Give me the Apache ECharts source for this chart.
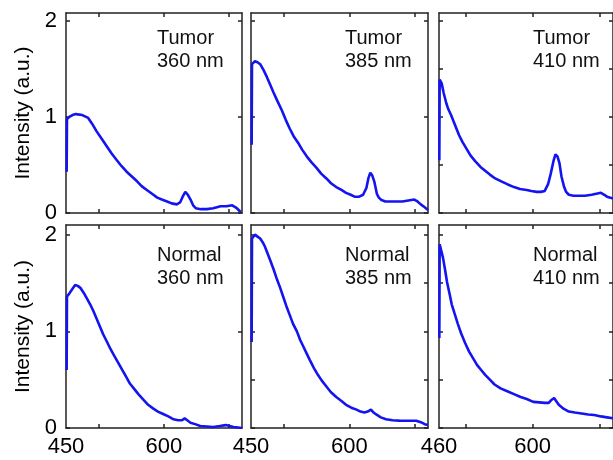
<!DOCTYPE html>
<html><head><meta charset="utf-8">
<script src="https://cdn.jsdelivr.net/npm/echarts@6/dist/echarts.min.js"></script>
<style>html,body{margin:0;padding:0;background:#fff}#c{width:613px;height:460px}</style>
</head><body><div id="c"></div><script>
// ---- data (wavelength in nm, intensity in a.u.) ----
const wlTumor360 = [451,451.5,455,460,465,468,475,484,490,497,505,513,520,528,535,543,551,559,566,574,582,590,597,605,612,620,625,629,633,637,641,645,649,657,666,676,687,696,705,712,718];
const tumor360   = [0.43,0.98,1.0,1.02,1.03,1.04,1.02,0.99,0.93,0.85,0.77,0.69,0.62,0.55,0.49,0.43,0.38,0.33,0.28,0.24,0.20,0.16,0.14,0.12,0.10,0.09,0.11,0.17,0.22,0.19,0.14,0.08,0.05,0.04,0.04,0.05,0.07,0.07,0.08,0.05,0.01];

const wlNormal360 = [451,451.5,455,460,464,468,472,477,482,487,492,497,502,507,513,518,523,528,533,538,543,548,554,561,569,576,584,591,599,607,615,622,628,632,636,641,648,656,666,676,686,695,701,707,714,720];
const normal360   = [0.60,1.36,1.39,1.44,1.48,1.47,1.45,1.40,1.34,1.28,1.21,1.13,1.05,0.97,0.89,0.82,0.76,0.70,0.64,0.58,0.52,0.46,0.41,0.35,0.29,0.24,0.20,0.17,0.145,0.12,0.09,0.08,0.08,0.10,0.08,0.055,0.04,0.02,0.015,0.01,0.02,0.03,0.02,0.01,0.005,0.0];

const wlTumor385 = [451,451.5,456,460,464,469,474,479,484,490,497,503,509,515,522,528,535,542,550,557,565,572,580,588,595,602,608,615,621,626,629,632,635,638,642,645,649,655,661,670,681,690,699,704,709,715,720];
const tumor385   = [0.71,1.55,1.58,1.57,1.55,1.49,1.42,1.34,1.26,1.17,1.07,0.97,0.88,0.80,0.73,0.66,0.59,0.53,0.47,0.41,0.36,0.31,0.27,0.24,0.21,0.19,0.17,0.17,0.19,0.26,0.36,0.42,0.39,0.33,0.20,0.16,0.135,0.12,0.12,0.12,0.12,0.13,0.14,0.12,0.09,0.06,0.03];

const wlNormal385 = [451,451.5,456,460,464,468,471,475,479,484,489,494,499,504,509,514,520,525,530,535,540,546,552,558,565,572,580,588,595,603,611,617,623,628,633,637,641,648,656,666,676,690,702,709,715,720];
const normal385   = [0.89,1.96,2.0,1.98,1.96,1.92,1.88,1.81,1.74,1.65,1.55,1.46,1.36,1.26,1.17,1.08,1.00,0.91,0.84,0.77,0.70,0.62,0.55,0.49,0.43,0.37,0.32,0.28,0.24,0.21,0.19,0.17,0.16,0.17,0.19,0.16,0.14,0.11,0.09,0.08,0.076,0.075,0.075,0.06,0.04,0.03];

const wlTumor410 = [460.5,461,464,467,471,474,478,482,486,490,495,501,507,514,522,529,536,544,553,562,572,581,591,598,606,612,618,623,627,631,634,637,640,643,647,650,654,661,668,678,688,695,702,707,711,716,720];
const tumor410   = [0.55,1.39,1.35,1.25,1.14,1.08,1.02,0.95,0.88,0.81,0.74,0.67,0.60,0.54,0.48,0.44,0.40,0.36,0.33,0.30,0.27,0.25,0.24,0.23,0.22,0.22,0.23,0.30,0.41,0.54,0.61,0.59,0.52,0.38,0.27,0.22,0.19,0.18,0.18,0.18,0.19,0.20,0.21,0.19,0.17,0.16,0.15];

const wlNormal410 = [460.5,461,462.5,466,469,472,476,479,483,488,493,499,505,511,517,523,529,536,543,552,562,572,582,591,601,610,618,624,628,632,635,639,646,654,663,673,683,692,702,711,720];
const normal410   = [0.93,1.90,1.88,1.76,1.64,1.51,1.38,1.28,1.19,1.08,0.98,0.88,0.79,0.72,0.65,0.60,0.55,0.50,0.45,0.41,0.38,0.35,0.32,0.30,0.27,0.265,0.26,0.26,0.29,0.31,0.28,0.24,0.20,0.17,0.16,0.15,0.14,0.135,0.12,0.11,0.10];

const xTicks = [500, 600, 700];
const xLabels = [[450, 600], [450, 600], [460, 600]];
const xMins = [450, 450, 460];
const xMax = 720;
const yLabels = [0, 1, 2];
const yTicksCoarse = [0, 1, 2];
const yTicksFine = [0, 0.5, 1, 1.5, 2];
const annotations = [['Tumor', '360 nm'], ['Tumor', '385 nm'], ['Tumor', '410 nm'],
                     ['Normal', '360 nm'], ['Normal', '385 nm'], ['Normal', '410 nm']];
const yName = 'Intensity (a.u.)';

const panels = [
  { wl: wlTumor360, v: tumor360, row: 0, col: 0, fine: false },
  { wl: wlTumor385, v: tumor385, row: 0, col: 1, fine: false },
  { wl: wlTumor410, v: tumor410, row: 0, col: 2, fine: true },
  { wl: wlNormal360, v: normal360, row: 1, col: 0, fine: false },
  { wl: wlNormal385, v: normal385, row: 1, col: 1, fine: true },
  { wl: wlNormal410, v: normal410, row: 1, col: 2, fine: true }
];

// ---- layout ----
const colBox = [{ left: 66, width: 176 }, { left: 251, width: 177 }, { left: 439, width: 180 }];
const rowBox = [{ top: 13, height: 200, max: 2.083 }, { top: 225, height: 203, max: 2.1 }];
const textX = [157, 345, 533];
const textY = [27, 244];
const FONT = '"Liberation Sans", Arial, Helvetica, sans-serif';
const frame = { color: '#222', width: 1.5 };

const grid = [], xAxis = [], yAxis = [], series = [], graphic = [];
panels.forEach((p, i) => {
  const c = colBox[p.col], r = rowBox[p.row];
  grid.push({ left: c.left, top: r.top, width: c.width, height: r.height, containLabel: false });
  const xBase = {
    type: 'value', gridIndex: i, min: xMins[p.col], max: xMax,
    axisLine: { show: true, onZero: false, lineStyle: frame },
    axisTick: { show: true, inside: true, length: 4, lineStyle: frame, customValues: xTicks },
    splitLine: { show: false }
  };
  xAxis.push(Object.assign({}, xBase, {
    position: 'bottom',
    axisLabel: { show: p.row === 1, customValues: xLabels[p.col], fontSize: 22, color: '#000', fontFamily: FONT, margin: 8 }
  }));
  xAxis.push(Object.assign({}, xBase, { position: 'top', axisLabel: { show: false } }));
  const yT = p.fine ? yTicksFine : yTicksCoarse;
  const yBase = {
    type: 'value', gridIndex: i, min: 0, max: r.max,
    axisLine: { show: true, onZero: false, lineStyle: frame },
    axisTick: { show: true, inside: true, length: 4, lineStyle: frame, customValues: yT },
    splitLine: { show: false }
  };
  const yl = Object.assign({}, yBase, {
    position: 'left',
    axisLabel: { show: p.col === 0, customValues: yLabels, fontSize: 22, color: '#000', fontFamily: FONT, margin: 9 }
  });
  if (p.col === 0) {
    yl.name = yName; yl.nameLocation = 'middle'; yl.nameGap = 32;
    yl.nameTextStyle = { fontSize: 21, color: '#000', fontFamily: FONT };
  }
  yAxis.push(yl);
  yAxis.push(Object.assign({}, yBase, { position: 'right', axisLabel: { show: false } }));
  series.push({
    type: 'line', xAxisIndex: 2 * i, yAxisIndex: 2 * i,
    data: p.wl.map((w, k) => [w, p.v[k]]),
    showSymbol: false, symbol: 'none', clip: true,
    lineStyle: { color: '#1414f0', width: 2.6 }
  });
  graphic.push({
    type: 'text', left: textX[p.col], top: textY[p.row],
    style: { text: annotations[i].join('\n'), fontSize: 20, lineHeight: 23, fontFamily: FONT, fill: '#111' }
  });
});

const chart = echarts.init(document.getElementById('c'), null, { renderer: 'canvas' });
chart.setOption({ animation: false, backgroundColor: '#fff', grid, xAxis, yAxis, series, graphic });
</script></body></html>
